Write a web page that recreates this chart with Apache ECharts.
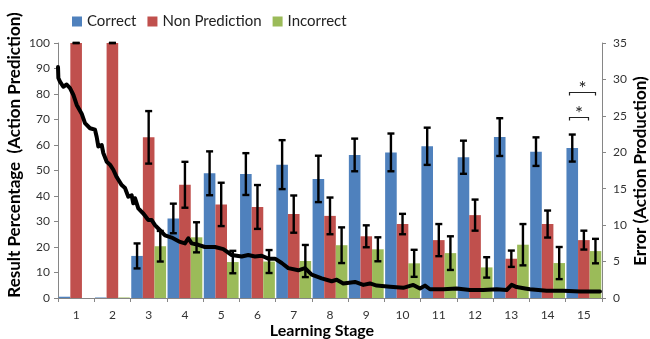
<!DOCTYPE html>
<html><head><meta charset="utf-8">
<script src="https://cdn.jsdelivr.net/npm/echarts@6/dist/echarts.min.js"></script>
<style>html,body{margin:0;padding:0;background:#fff}#c{width:650px;height:339px}</style>
</head><body><div id="c"></div>
<script>
const categories = ['1','2','3','4','5','6','7','8','9','10','11','12','13','14','15'];
const seriesNames = ['Correct','Non Prediction','Incorrect'];
const correct       = [0.5, 0.2, 16.5, 31.2, 48.9, 48.6, 52.3, 46.7, 56.1, 57.1, 59.5, 55.2, 63.1, 57.4, 58.8];
const nonPrediction = [100, 100, 63.0, 44.4, 36.7, 35.7, 32.9, 32.2, 24.2, 29.0, 22.7, 32.5, 15.4, 29.0, 22.7];
const incorrect     = [0,   0.2, 20.3, 23.8, 14.1, 14.3, 14.5, 20.7, 19.1, 13.6, 17.6, 12.0, 20.9, 13.7, 18.4];
const correctErr       = [0, 0, 4.9, 5.8, 8.6, 8.2, 9.6, 9.1, 6.4, 7.4, 7.3, 6.5, 7.4, 5.6, 5.3];
const nonPredictionErr = [0, 0, 10.3, 9.0, 8.5, 8.6, 7.3, 7.2, 4.3, 4.0, 6.3, 6.1, 3.2, 5.3, 3.7];
const incorrectErr     = [0, 0, 6.0, 5.9, 4.4, 4.5, 6.3, 7.0, 4.7, 5.3, 6.6, 4.0, 8.1, 6.3, 4.8];
// Error (Action Production) curve, x in learning-stage units from left edge of plot
const errorStage = [0,0.01,0.055,0.146,0.24,0.331,0.422,0.516,0.653,0.744,0.882,1.02,1.067,1.111,1.205,1.249,1.343,1.434,1.525,1.618,1.756,1.847,1.938,2.032,2.076,2.123,2.214,2.352,2.49,2.583,2.674,2.812,2.95,3.135,3.364,3.501,3.593,3.686,3.868,4.053,4.329,4.558,4.789,5.065,5.247,5.431,5.616,5.798,5.983,6.168,6.35,6.625,6.81,6.995,7.271,7.546,7.684,7.866,8.189,8.418,8.602,8.787,9.154,9.52,9.796,9.981,10.119,10.256,10.623,10.993,11.359,11.726,12.096,12.371,12.509,12.647,12.88,13.013,13.474,13.932,14.392,14.944];
const errorValue = [31.7,30.2,29.7,29.0,29.3,28.8,27.9,26.5,25.3,24.0,23.3,23.1,22.1,20.8,21.0,19.9,18.7,18.3,17.6,16.6,15.5,15.1,13.9,14.1,13.0,13.7,12.3,11.6,10.7,10.7,10.0,9.3,8.6,8.3,7.7,7.5,8.2,7.5,7.3,7.0,7.0,6.7,5.9,5.7,5.9,5.7,5.8,5.4,5.4,4.8,4.1,3.8,4.1,3.2,2.7,2.3,2.5,2.0,2.2,1.8,2.0,1.7,1.55,1.4,1.8,1.3,1.7,1.2,1.2,1.3,1.1,1.1,1.2,1.1,1.8,1.5,1.3,1.2,1.0,1.0,0.9,0.9];
// significance brackets: [category index, from bar, to bar, y value]
const brackets = [[14, 0, 2, 80.9], [14, 0, 1, 71.1]];
const leftTicks = {min:0, max:100, interval:10};
const rightTicks = {min:0, max:35, interval:5};

const colors = ['#4F81BD','#C0504D','#9BBB59'];
const FONT = 'Lato, "Open Sans", sans-serif';
const GAP = 4;
const chart = echarts.init(document.getElementById('c'));

function errData(vals, errs, idx){
  return vals.map((v,i)=>[i, v-errs[i], v+errs[i], idx, v]).filter(d=>d[4]>1);
}
function renderErr(params, api){
  const cat = api.value(0), lo = api.value(1), hi = api.value(2), s = api.value(3);
  const band = api.size([1,0])[0];
  const bw = band*(1-GAP/100)/3;
  const c = api.coord([cat, 0])[0] + (s-1)*bw;
  const yLo = api.coord([cat, lo])[1], yHi = api.coord([cat, hi])[1];
  const cap = 3.5;
  const style = {stroke:'#000', lineWidth:2.4};
  return {type:'group', children:[
    {type:'line', shape:{x1:c,y1:yLo,x2:c,y2:yHi}, style},
    {type:'line', shape:{x1:c-cap,y1:yHi,x2:c+cap,y2:yHi}, style},
    {type:'line', shape:{x1:c-cap,y1:yLo,x2:c+cap,y2:yLo}, style}]};
}
function renderBracket(params, api){
  const cat = api.value(0), b0 = api.value(1), b1 = api.value(2), yv = api.value(3);
  const band = api.size([1,0])[0];
  const bw = band*(1-GAP/100)/3;
  const c = api.coord([cat, 0])[0];
  const x1 = Math.round(c + (b0-1)*bw - 3) + 0.5, x2 = Math.round(c + (b1-1)*bw + (b1===2?0:4)) + 0.5;
  const y = Math.round(api.coord([cat, yv])[1]) + 0.5;
  const st = {stroke:'#222', lineWidth:1.2};
  return {type:'group', children:[
    {type:'polyline', shape:{points:[[x1,y+3],[x1,y],[x2,y],[x2,y+3]]}, style:Object.assign({fill:null}, st)},
    {type:'text', x:(x1+x2)/2, y:y-4, style:{text:'*', fontSize:19, fontFamily:FONT, fill:'#222', align:'center', verticalAlign:'middle'}}
  ]};
}
const axisLineStyle = {color:'#868686', width:1};
const option = {
  animation:false,
  textStyle:{fontFamily:FONT},
  grid:{left:58, right:48, top:43, bottom:41, containLabel:false},
  legend:{data:seriesNames, left:67, top:9, itemWidth:10, itemHeight:10, itemGap:11, icon:'rect',
    textStyle:{fontSize:15, color:'#222', fontFamily:FONT}},
  xAxis:[
    {type:'category', data:categories, axisLine:{lineStyle:axisLineStyle},
     axisTick:{show:true, length:4, lineStyle:axisLineStyle},
     axisLabel:{fontSize:12, color:'#333', margin:11, fontFamily:FONT}},
    {type:'value', min:0, max:15, show:false}
  ],
  yAxis:[
    {type:'value', min:leftTicks.min, max:leftTicks.max, interval:leftTicks.interval, splitLine:{show:false},
     axisLine:{show:true, lineStyle:axisLineStyle}, axisTick:{show:true, length:4, lineStyle:axisLineStyle},
     axisLabel:{fontSize:12, color:'#333', margin:8, fontFamily:FONT}},
    {type:'value', min:rightTicks.min, max:rightTicks.max, interval:rightTicks.interval, position:'right', splitLine:{show:false},
     axisLine:{show:true, lineStyle:axisLineStyle}, axisTick:{show:true, length:4, lineStyle:axisLineStyle},
     axisLabel:{fontSize:12, color:'#333', margin:11, fontFamily:FONT}}
  ],
  series:[
    {name:seriesNames[0], type:'bar', data:correct, itemStyle:{color:colors[0]}, barGap:'0%', barCategoryGap:GAP+'%', z:2},
    {name:seriesNames[1], type:'bar', data:nonPrediction, itemStyle:{color:colors[1]}, barGap:'0%', barCategoryGap:GAP+'%', z:2},
    {name:seriesNames[2], type:'bar', data:incorrect, itemStyle:{color:colors[2]}, barGap:'0%', barCategoryGap:GAP+'%', z:2},
    {type:'custom', renderItem:renderErr, encode:{x:0, y:[1,2]}, z:3,
     data:[].concat(errData(correct, correctErr, 0), errData(nonPrediction, nonPredictionErr, 1), errData(incorrect, incorrectErr, 2))},
    {type:'line', xAxisIndex:1, yAxisIndex:1, data:errorStage.map((x,i)=>[x, errorValue[i]]), showSymbol:false, symbol:'none',
     lineStyle:{color:'#000', width:4, join:'round', cap:'round'}, z:4},
    {type:'custom', renderItem:renderBracket, encode:{x:0, y:3}, data:brackets, z:5}
  ],
  graphic:[
    {type:'text', x:15, y:155, rotation:Math.PI/2, style:{text:'Result Percentage  (Action Prediction)', fontSize:17, fontWeight:'bold', fontFamily:FONT, fill:'#000', align:'center', verticalAlign:'middle'}},
    {type:'text', x:641, y:171, rotation:Math.PI/2, style:{text:'Error (Action Production)', fontSize:17, fontWeight:'bold', fontFamily:FONT, fill:'#000', align:'center', verticalAlign:'middle'}},
    {type:'text', x:322, y:331, style:{text:'Learning Stage', fontSize:16, fontWeight:'bold', fontFamily:FONT, fill:'#000', align:'center', verticalAlign:'middle'}}
  ]
};
chart.setOption(option);
</script></body></html>
